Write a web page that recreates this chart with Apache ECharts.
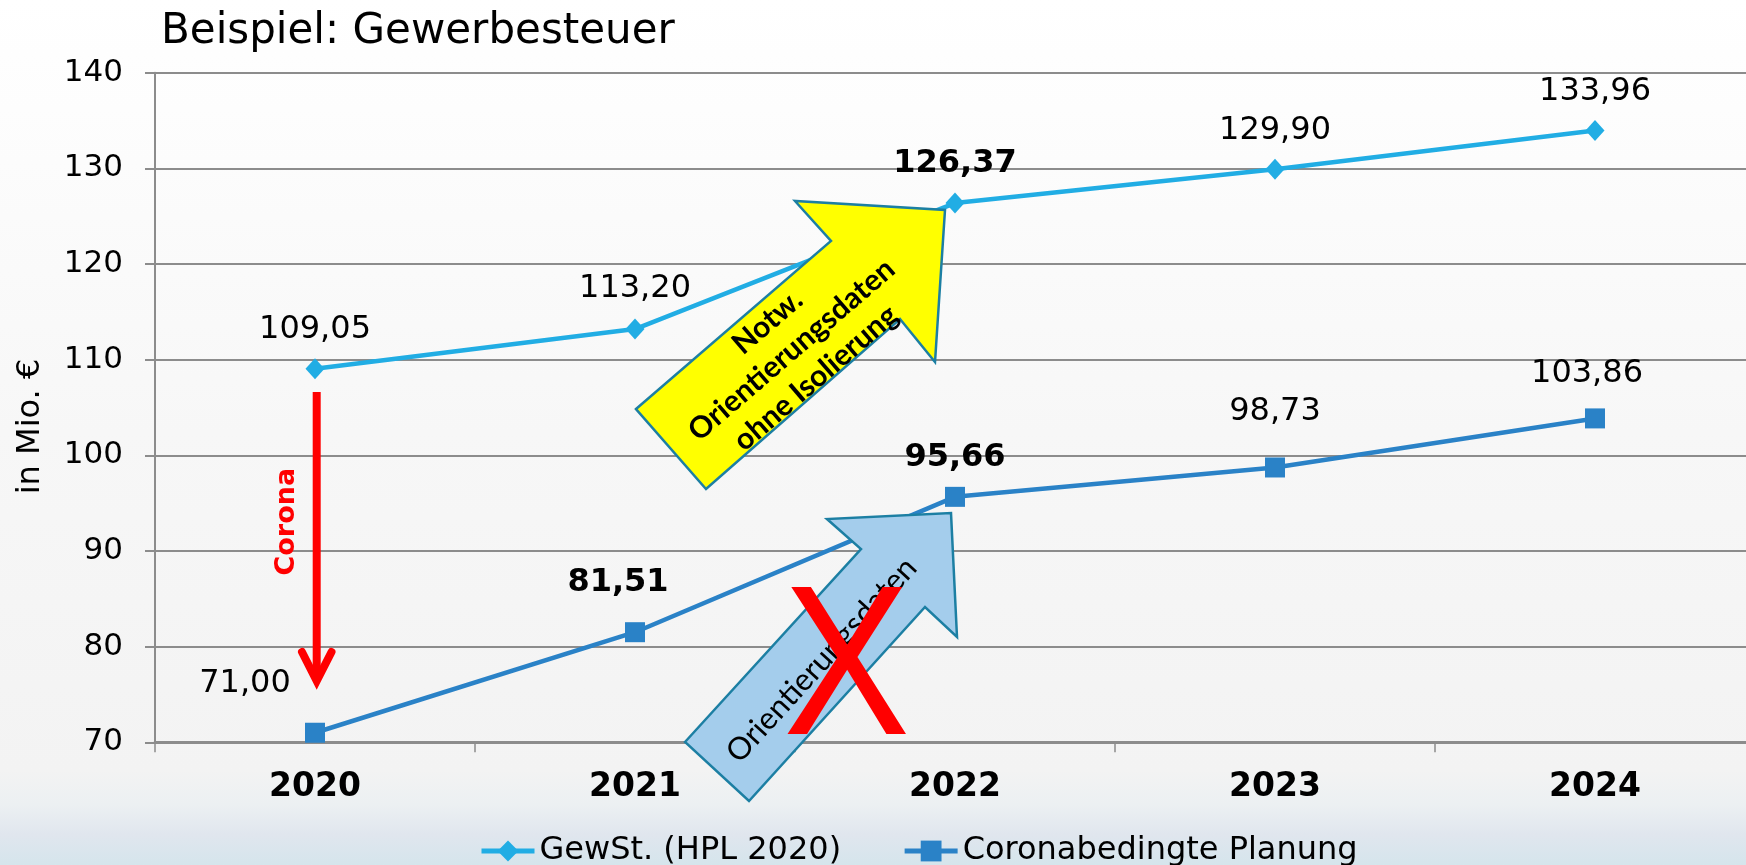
<!DOCTYPE html>
<html>
<head>
<meta charset="utf-8">
<script src="https://cdn.jsdelivr.net/npm/echarts@6/dist/echarts.min.js"></script>
<style>
html,body{margin:0;padding:0;}
#chart{width:1746px;height:865px;}
</style>
</head>
<body>
<div id="chart"></div>
<script>
// ---- data ----
const years = ['2020', '2021', '2022', '2023', '2024'];
const gewSt = [109.05, 113.20, 126.37, 129.90, 133.96];
const corona = [71.00, 81.51, 95.66, 98.73, 103.86];
const seriesNames = ['GewSt. (HPL 2020)', 'Coronabedingte Planung'];
const yTicks = { min: 70, max: 140, interval: 10 };

// ---- label styling (offsets from point, bold flags) ----
const gewOffsets = [[0, -39], [0, -40], [0, -39], [0, -39], [0, -39]];
const gewBold = [false, false, true, false, false];
const corOffsets = [[-70, -49], [-17, -50], [0, -39], [0, -56], [-8, -45]];
const corBold = [false, true, true, false, false];

const FONT = '"DejaVu Sans", Verdana, sans-serif';
const fmt = v => v.toFixed(2).replace('.', ',');

function build(values, offsets, bolds) {
  return values.map((v, i) => ({
    value: v,
    label: { offset: offsets[i], fontWeight: bolds[i] ? 'bold' : 'normal' }
  }));
}

const chart = echarts.init(document.getElementById('chart'));
const axisGray = '#8c8c8c';

const option = {
  animation: false,
  backgroundColor: {
    type: 'linear', x: 0, y: 0, x2: 0, y2: 1,
    colorStops: [
      { offset: 0, color: '#ffffff' },
      { offset: 0.5, color: '#f7f7f7' },
      { offset: 0.89, color: '#f3f3f3' },
      { offset: 0.93, color: '#ecf0f2' },
      { offset: 0.965, color: '#e0e6ee' },
      { offset: 1, color: '#d5e5ec' }
    ]
  },
  title: {
    text: 'Beispiel: Gewerbesteuer',
    left: 161, top: 11, padding: 0,
    textStyle: { fontFamily: FONT, fontSize: 42, fontWeight: 'normal', color: '#000' }
  },
  legend: {
    left: 479, top: 835, padding: 0,
    itemWidth: 53, itemHeight: 26, itemGap: 61,
    lineStyle: { width: 5 },
    textStyle: { fontFamily: FONT, fontSize: 32, color: '#000' },
    data: seriesNames
  },
  grid: { left: 155, top: 72.7, width: 1600, height: 669.6, outerBoundsMode: 'none', containLabel: false },
  xAxis: {
    type: 'category', data: years, boundaryGap: true,
    axisLine: { show: true, lineStyle: { color: axisGray, width: 3 } },
    axisTick: { show: true, length: 10, lineStyle: { color: axisGray, width: 1.5 } },
    axisLabel: { fontFamily: FONT, fontSize: 33, fontWeight: 'bold', color: '#000', margin: 29 }
  },
  yAxis: {
    type: 'value', min: yTicks.min, max: yTicks.max, interval: yTicks.interval,
    name: 'in Mio. €', nameLocation: 'middle', nameRotate: 90, nameGap: 108,
    nameTextStyle: { fontFamily: FONT, fontSize: 32, color: '#000', padding: [0, 38, 0, 0] },
    axisLine: { show: true, lineStyle: { color: axisGray, width: 2 } },
    axisTick: { show: true, length: 10, lineStyle: { color: axisGray, width: 2 } },
    splitLine: { show: true, lineStyle: { color: axisGray, width: 2 } },
    axisLabel: { fontFamily: FONT, fontSize: 31, color: '#000', margin: 32 }
  },
  series: [
    {
      name: seriesNames[0], type: 'line', data: build(gewSt, gewOffsets, gewBold),
      symbol: 'diamond', symbolSize: [19, 21],
      itemStyle: { color: '#21ade4' },
      lineStyle: { color: '#21ade4', width: 4.5 },
      label: { show: true, position: 'inside', formatter: p => fmt(p.value),
               fontFamily: FONT, fontSize: 32, color: '#000' },
      z: 3
    },
    {
      name: seriesNames[1], type: 'line', data: build(corona, corOffsets, corBold),
      symbol: 'rect', symbolSize: 20,
      itemStyle: { color: '#2a82c7' },
      lineStyle: { color: '#2a82c7', width: 4.5 },
      label: { show: true, position: 'inside', formatter: p => fmt(p.value),
               fontFamily: FONT, fontSize: 32, color: '#000' },
      z: 3
    }
  ],
  graphic: [
    // Corona arrow
    { type: 'polyline', z: 50, shape: { points: [[316.7, 392], [316.7, 678]] },
      style: { stroke: '#ff0000', lineWidth: 8, fill: null } },
    { type: 'polyline', z: 50, shape: { points: [[302, 652], [316.7, 681], [331.5, 652]] },
      style: { stroke: '#ff0000', lineWidth: 8, fill: null, lineCap: 'round', lineJoin: 'miter' } },
    { type: 'text', z: 50, x: 286.7, y: 521.7, rotation: Math.PI / 2,
      style: { text: 'Corona', fill: '#ff0000', font: 'bold 27px "DejaVu Sans", Verdana, sans-serif',
               align: 'center', verticalAlign: 'middle' } },
    // yellow arrow
    { type: 'polygon', z: 60,
      shape: { points: [[636, 409], [831, 241], [795, 201], [945, 210], [935, 362], [900, 319], [706, 489]] },
      style: { fill: '#ffff00', stroke: '#1c7fa3', lineWidth: 2.5 } },
    { type: 'text', z: 61, x: 791.7, y: 350, rotation: 40.7 * Math.PI / 180,
      style: { text: 'Notw.\nOrientierungsdaten\nohne Isolierung', fill: '#000',
               font: 'bold 30px Lato, "Open Sans", sans-serif', lineHeight: 37,
               align: 'center', verticalAlign: 'middle' } },
    // blue arrow
    { type: 'polygon', z: 60,
      shape: { points: [[685, 742], [861, 549], [827, 519], [951, 513], [957, 637], [925, 607], [749, 801]] },
      style: { fill: '#a4cdec', stroke: '#1c7fa3', lineWidth: 2.5 } },
    { type: 'text', z: 61, x: 821.7, y: 660, rotation: 47.5 * Math.PI / 180,
      style: { text: 'Orientierungsdaten', fill: '#000',
               font: '31px Lato, "Open Sans", sans-serif',
               align: 'center', verticalAlign: 'middle' } },
    // red X
    { type: 'text', z: 62, x: 846.5, y: 675, scaleY: 1.12,
      style: { text: 'X', fill: '#ff0000',
               font: '190px "Liberation Sans", Arial, sans-serif',
               align: 'center', verticalAlign: 'middle' } }
  ]
};
chart.setOption(option);
</script>
</body>
</html>
